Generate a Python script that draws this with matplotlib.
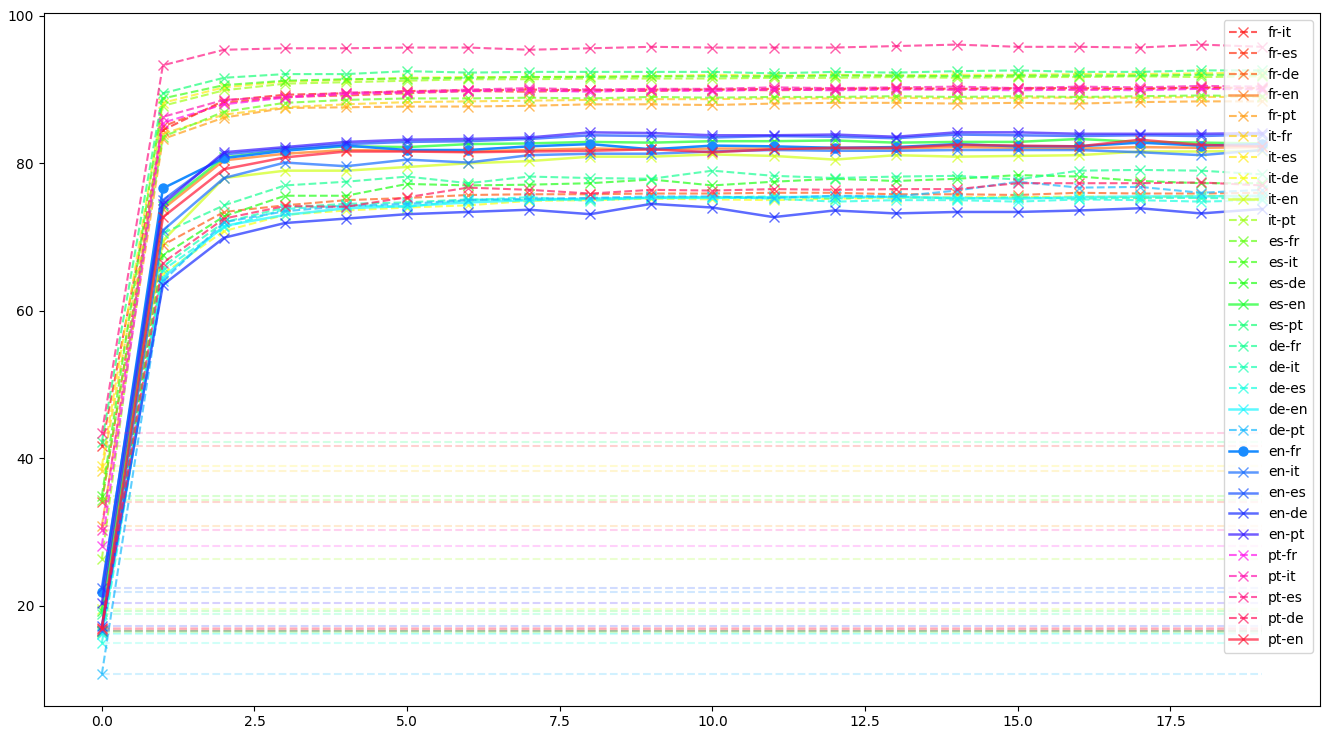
import numpy as np
import matplotlib.pyplot as plt
from matplotlib.colors import hsv_to_rgb

epochs = np.arange(20)

# romance pairs (dashed, top group)
fr_it = [41.6, 84.5, 88.5, 89.3, 89.5, 89.8, 89.9, 90.0, 89.9, 90.0, 90.0, 90.1, 90.1, 90.2, 90.1, 90.2, 90.2, 90.1, 90.3, 90.2]
fr_es = [34.0, 85.0, 88.2, 89.0, 89.2, 89.5, 89.8, 89.7, 89.9, 89.8, 90.0, 89.9, 90.0, 90.1, 90.0, 90.1, 90.0, 90.1, 90.2, 90.1]
fr_pt = [30.8, 83.3, 86.2, 87.5, 87.6, 87.7, 87.7, 87.8, 88.0, 88.0, 87.9, 88.1, 88.2, 88.2, 88.1, 88.2, 88.1, 88.3, 88.4, 88.4]
it_fr = [38.3, 84.0, 86.6, 87.6, 88.0, 88.3, 88.4, 88.5, 88.6, 88.7, 88.7, 88.8, 88.8, 88.9, 88.8, 88.9, 88.9, 88.9, 89.0, 89.0]
it_es = [38.9, 88.2, 90.3, 91.1, 91.3, 91.6, 91.7, 91.7, 91.8, 91.8, 92.0, 91.9, 92.0, 91.9, 92.0, 92.0, 92.1, 92.1, 92.2, 92.3]
it_pt = [26.3, 87.8, 89.9, 90.8, 91.0, 91.2, 91.4, 91.4, 91.5, 91.5, 91.5, 91.6, 91.6, 91.7, 91.6, 91.7, 91.7, 91.8, 91.7, 91.8]
es_fr = [34.3, 83.6, 87.0, 88.2, 88.6, 88.8, 88.8, 88.9, 88.8, 89.0, 88.9, 89.0, 89.0, 89.1, 89.0, 89.1, 89.0, 89.1, 89.2, 89.1]
es_it = [34.9, 88.8, 90.6, 91.2, 91.4, 91.5, 91.6, 91.7, 91.7, 91.8, 91.8, 91.8, 91.9, 91.9, 91.8, 91.9, 91.9, 91.9, 92.0, 92.0]
es_pt = [42.2, 89.5, 91.6, 92.1, 92.1, 92.5, 92.3, 92.4, 92.4, 92.4, 92.4, 92.2, 92.4, 92.3, 92.5, 92.6, 92.4, 92.4, 92.6, 92.6]
pt_fr = [28.1, 85.5, 88.0, 88.9, 89.4, 89.6, 89.8, 89.9, 89.7, 89.9, 89.8, 90.0, 89.9, 90.0, 90.0, 89.9, 90.0, 89.9, 90.1, 90.0]
pt_it = [30.3, 86.3, 88.6, 89.0, 89.6, 89.7, 90.0, 90.2, 90.0, 90.1, 90.1, 90.3, 90.2, 90.3, 90.4, 90.2, 90.4, 90.3, 90.5, 90.4]
pt_es = [43.4, 93.3, 95.4, 95.6, 95.6, 95.7, 95.7, 95.4, 95.6, 95.8, 95.7, 95.7, 95.7, 95.9, 96.1, 95.8, 95.8, 95.7, 96.1, 95.8]

# german pairs (dashed, middle group)
fr_de = [16.5, 68.9, 73.4, 74.3, 75.0, 75.3, 75.7, 75.8, 75.8, 75.9, 75.9, 76.0, 76.0, 75.8, 75.8, 75.7, 76.0, 75.9, 75.9, 76.0]
it_de = [16.4, 65.0, 70.8, 73.0, 73.6, 74.0, 74.3, 74.9, 75.0, 75.2, 75.1, 75.0, 75.2, 75.3, 75.4, 75.4, 75.5, 75.4, 75.6, 75.5]
es_de = [16.6, 67.5, 72.8, 75.6, 75.6, 77.2, 77.0, 77.1, 77.3, 77.8, 77.0, 77.5, 77.9, 77.6, 77.9, 78.4, 78.2, 77.6, 77.3, 77.3]
pt_de = [16.8, 66.5, 72.5, 74.2, 74.1, 75.4, 76.7, 76.4, 75.9, 76.4, 76.3, 76.5, 76.4, 76.5, 76.5, 77.3, 77.3, 77.3, 77.4, 77.0]
de_fr = [18.8, 70.5, 74.3, 77.0, 77.5, 78.2, 77.3, 78.2, 78.0, 77.9, 79.0, 78.3, 78.0, 78.2, 78.3, 77.8, 79.0, 79.1, 79.0, 78.5]
de_it = [16.3, 66.0, 72.0, 74.0, 74.5, 74.7, 75.1, 75.0, 75.2, 75.3, 75.4, 75.5, 75.2, 75.5, 75.2, 75.4, 75.2, 75.3, 75.3, 75.2]
de_es = [14.9, 65.5, 71.3, 73.8, 74.3, 74.1, 75.0, 75.4, 74.9, 75.4, 75.4, 75.2, 74.8, 75.0, 75.0, 74.8, 75.1, 75.0, 74.8, 75.0]
de_pt = [10.7, 64.0, 72.0, 73.5, 74.2, 74.5, 75.0, 75.2, 75.3, 75.5, 75.5, 75.3, 75.6, 75.5, 76.3, 77.5, 76.7, 76.8, 76.0, 76.4]

# english pairs (solid)
fr_en = [16.7, 73.8, 80.4, 81.3, 81.8, 81.7, 81.6, 81.8, 82.0, 81.9, 82.0, 82.0, 82.0, 82.0, 82.2, 82.1, 82.0, 82.2, 82.1, 82.2]
it_en = [19.5, 69.5, 78.0, 79.0, 79.0, 79.5, 80.0, 80.3, 80.9, 80.9, 81.2, 81.0, 80.5, 81.1, 80.9, 81.0, 81.1, 81.6, 81.6, 81.7]
es_en = [19.3, 74.2, 80.8, 81.8, 82.3, 82.2, 82.6, 82.7, 82.9, 82.8, 83.0, 83.0, 83.1, 82.8, 82.9, 82.9, 83.3, 82.9, 82.8, 82.7]
de_en = [16.2, 64.5, 71.5, 73.0, 73.9, 74.2, 74.7, 75.0, 75.2, 75.3, 75.3, 75.4, 75.5, 75.4, 75.3, 75.2, 75.4, 75.5, 75.5, 75.6]
en_fr = [21.8, 76.6, 80.7, 81.7, 82.4, 81.8, 81.8, 82.3, 82.6, 81.9, 82.4, 82.3, 82.1, 82.2, 82.6, 82.3, 82.3, 82.8, 82.4, 82.6]
en_it = [16.6, 70.9, 78.0, 80.1, 79.6, 80.5, 80.1, 81.1, 81.3, 81.3, 81.6, 81.8, 81.7, 81.7, 81.8, 81.8, 81.8, 81.5, 81.1, 81.8]
en_es = [22.4, 75.0, 81.2, 82.0, 82.6, 82.9, 83.0, 83.3, 83.8, 83.7, 83.5, 83.7, 83.6, 83.4, 83.9, 83.8, 83.7, 83.8, 83.7, 83.9]
en_de = [17.2, 63.5, 69.9, 71.9, 72.5, 73.1, 73.4, 73.7, 73.1, 74.5, 74.0, 72.7, 73.6, 73.2, 73.4, 73.4, 73.6, 73.9, 73.2, 73.8]
en_pt = [20.3, 74.5, 81.5, 82.2, 82.9, 83.2, 83.3, 83.5, 84.2, 84.1, 83.8, 83.8, 83.9, 83.6, 84.2, 84.2, 84.0, 84.0, 84.0, 84.1]
pt_en = [17.0, 72.7, 79.2, 80.8, 81.6, 81.6, 81.5, 81.6, 81.7, 81.9, 81.5, 81.9, 82.1, 82.1, 82.5, 82.4, 82.3, 83.2, 82.5, 82.3]

pairs = ['fr-it', 'fr-es', 'fr-de', 'fr-en', 'fr-pt',
         'it-fr', 'it-es', 'it-de', 'it-en', 'it-pt',
         'es-fr', 'es-it', 'es-de', 'es-en', 'es-pt',
         'de-fr', 'de-it', 'de-es', 'de-en', 'de-pt',
         'en-fr', 'en-it', 'en-es', 'en-de', 'en-pt',
         'pt-fr', 'pt-it', 'pt-es', 'pt-de', 'pt-en']
scores = [fr_it, fr_es, fr_de, fr_en, fr_pt,
          it_fr, it_es, it_de, it_en, it_pt,
          es_fr, es_it, es_de, es_en, es_pt,
          de_fr, de_it, de_es, de_en, de_pt,
          en_fr, en_it, en_es, en_de, en_pt,
          pt_fr, pt_it, pt_es, pt_de, pt_en]

hues = [0, 8, 18, 25, 35, 48, 55, 62, 72, 85,
        100, 110, 118, 125, 145, 152, 160, 172, 182, 198,
        210, 218, 225, 235, 248, 305, 320, 332, 342, 352]

fig, ax = plt.subplots(figsize=(13.28, 7.29), dpi=100)
for pair, y, h in zip(pairs, scores, hues):
    c = hsv_to_rgb((h / 360.0, 0.9, 1.0))
    if pair == 'en-fr':
        ax.plot(epochs, y, '-o', color=c, label=pair, lw=1.8, ms=6.5)
    elif 'en' in pair.split('-'):
        ax.plot(epochs, y, '-x', color=c, label=pair, lw=1.8, ms=6.5, alpha=0.7)
    else:
        ax.plot(epochs, y, '--x', color=c, label=pair, lw=1.5, ms=6.5, alpha=0.7)
    # faint baseline at the epoch-0 score
    ax.hlines(y[0], epochs[0], epochs[-1], colors=[c], linestyles='--', alpha=0.2, lw=1.5)

ax.legend(loc='upper right', fontsize=10)
plt.subplots_adjust(left=0.033, right=0.994, top=0.982, bottom=0.032)
plt.savefig('out.png')
